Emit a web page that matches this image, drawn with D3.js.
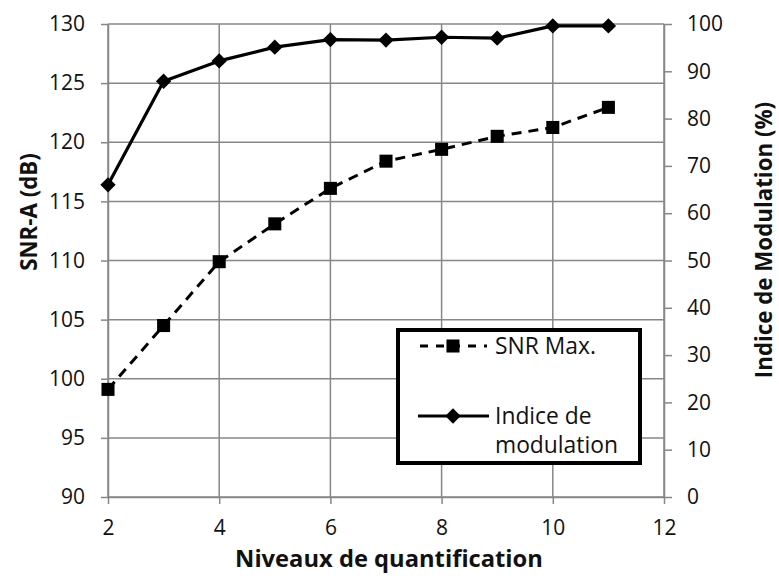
<!DOCTYPE html>
<html>
<head>
<meta charset="utf-8">
<script src="https://cdn.jsdelivr.net/npm/d3@7"></script>
<style>
  html, body { margin: 0; padding: 0; background: #fff; }
  svg { display: block; font-family: "Open Sans", sans-serif; }
</style>
</head>
<body>
<svg id="chart" width="779" height="581"></svg>
<script>
// Quantisation levels and measured series
const levels = [2, 3, 4, 5, 6, 7, 8, 9, 10, 11];
const snrMax = [99.1, 104.5, 109.9, 113.1, 116.1, 118.4, 119.4, 120.5, 121.25, 122.95];
const modulationIndex = [66.0, 87.9, 92.2, 95.1, 96.7, 96.6, 97.2, 97.0, 99.6, 99.6];

const xTicks = [2, 4, 6, 8, 10, 12];
const leftTicks = [90, 95, 100, 105, 110, 115, 120, 125, 130];
const rightTicks = [0, 10, 20, 30, 40, 50, 60, 70, 80, 90, 100];

const seriesNames = ["SNR Max.", "Indice de", "modulation"];
const axisTitles = { x: "Niveaux de quantification", left: "SNR-A (dB)", right: "Indice de Modulation (%)" };

const svg = d3.select("#chart");
const plot = { left: 108, right: 664, top: 24, bottom: 497 };
const grid = "#878787";
const ink = "#111";
const font = "'Open Sans', sans-serif";

// Font size that makes a string span a given width
function fitSize(str, width, weight) {
  const probe = svg.append("text").attr("font-family", font).attr("font-size", 20)
    .attr("font-weight", weight || "normal").text(str);
  const w = probe.node().getComputedTextLength();
  probe.remove();
  return 20 * width / w;
}
const tickSize = fitSize("130", 36);
const legendSize = fitSize("modulation", 123);
const titleSize = fitSize(axisTitles.x, 308, "bold");
const sideTitleSize = titleSize * 0.94;

const x = d3.scaleLinear().domain([2, 12]).range([plot.left, plot.right]);
const yL = d3.scaleLinear().domain([90, 130]).range([plot.bottom, plot.top]);
const yR = d3.scaleLinear().domain([0, 100]).range([plot.bottom, plot.top]);

// Gridlines
svg.append("g").selectAll("line").data(leftTicks).join("line")
  .attr("x1", plot.left).attr("x2", plot.right)
  .attr("y1", d => yL(d)).attr("y2", d => yL(d))
  .attr("stroke", grid).attr("stroke-width", 1.5);
svg.append("g").selectAll("line").data(xTicks).join("line")
  .attr("x1", d => x(d)).attr("x2", d => x(d))
  .attr("y1", plot.top).attr("y2", plot.bottom)
  .attr("stroke", grid).attr("stroke-width", 1.5);

function styleAxis(g) {
  g.select(".domain").attr("stroke", grid).attr("stroke-width", 1.5);
  g.selectAll(".tick line").attr("stroke", grid).attr("stroke-width", 1.5);
  g.selectAll(".tick text").attr("fill", ink).attr("font-size", tickSize)
    .attr("font-family", font);
}

svg.append("g").attr("transform", `translate(0,${plot.bottom})`)
  .call(d3.axisBottom(x).tickValues(xTicks).tickSize(7).tickSizeOuter(0).tickPadding(16))
  .call(styleAxis);
svg.append("g").attr("transform", `translate(${plot.left},0)`)
  .call(d3.axisLeft(yL).tickValues(leftTicks).tickSize(7).tickSizeOuter(0).tickPadding(16))
  .call(styleAxis);
svg.append("g").attr("transform", `translate(${plot.right},0)`)
  .call(d3.axisRight(yR).tickValues(rightTicks).tickSize(8).tickSizeOuter(0).tickPadding(15))
  .call(styleAxis);

// Series lines
const snrLine = d3.line().x((d, i) => x(levels[i])).y(d => yL(d));
const modLine = d3.line().x((d, i) => x(levels[i])).y(d => yR(d));

svg.append("path").datum(snrMax).attr("d", snrLine)
  .attr("fill", "none").attr("stroke", "#000").attr("stroke-width", 3)
  .attr("stroke-dasharray", "10,7");
svg.append("path").datum(modulationIndex).attr("d", modLine)
  .attr("fill", "none").attr("stroke", "#000").attr("stroke-width", 3.2)
  .attr("stroke-linejoin", "round");

const squareSym = d3.symbol().type(d3.symbolSquare).size(170);
const diamondSym = d3.symbol().type(d3.symbolDiamond2).size(150);

svg.append("g").selectAll("path").data(snrMax).join("path")
  .attr("d", squareSym)
  .attr("transform", (d, i) => `translate(${x(levels[i])},${yL(d)})`)
  .attr("fill", "#000");
svg.append("g").selectAll("path").data(modulationIndex).join("path")
  .attr("d", diamondSym)
  .attr("transform", (d, i) => `translate(${x(levels[i])},${yR(d)})`)
  .attr("fill", "#000");

// Axis titles
svg.append("text").attr("x", 389).attr("y", 567).attr("text-anchor", "middle")
  .attr("font-size", titleSize).attr("font-weight", "bold").attr("fill", ink)
  .text(axisTitles.x);
svg.append("text").attr("transform", "translate(37,212) rotate(-90)").attr("text-anchor", "middle")
  .attr("font-size", sideTitleSize).attr("font-weight", "bold").attr("fill", ink)
  .text(axisTitles.left);
svg.append("text").attr("transform", "translate(772,240) rotate(-90)").attr("text-anchor", "middle")
  .attr("font-size", sideTitleSize).attr("font-weight", "bold").attr("fill", ink)
  .text(axisTitles.right);

// Legend
const lg = svg.append("g");
lg.append("rect").attr("x", 398).attr("y", 330).attr("width", 242).attr("height", 133)
  .attr("fill", "#fff").attr("stroke", "#000").attr("stroke-width", 4);
lg.append("line").attr("x1", 418).attr("x2", 487).attr("y1", 346).attr("y2", 346)
  .attr("stroke", "#000").attr("stroke-width", 3).attr("stroke-dasharray", "8,8").attr("stroke-dashoffset", -2);
lg.append("path").attr("d", squareSym).attr("transform", "translate(453,346)").attr("fill", "#000");
lg.append("line").attr("x1", 418).attr("x2", 489).attr("y1", 416).attr("y2", 416)
  .attr("stroke", "#000").attr("stroke-width", 3.2);
lg.append("path").attr("d", diamondSym).attr("transform", "translate(453,416)").attr("fill", "#000");
lg.append("text").attr("x", 495).attr("y", 354).attr("font-size", legendSize).attr("fill", ink).text(seriesNames[0]);
lg.append("text").attr("x", 495).attr("y", 424).attr("font-size", legendSize).attr("fill", ink).text(seriesNames[1]);
lg.append("text").attr("x", 495).attr("y", 453).attr("font-size", legendSize).attr("fill", ink).text(seriesNames[2]);
</script>
</body>
</html>
